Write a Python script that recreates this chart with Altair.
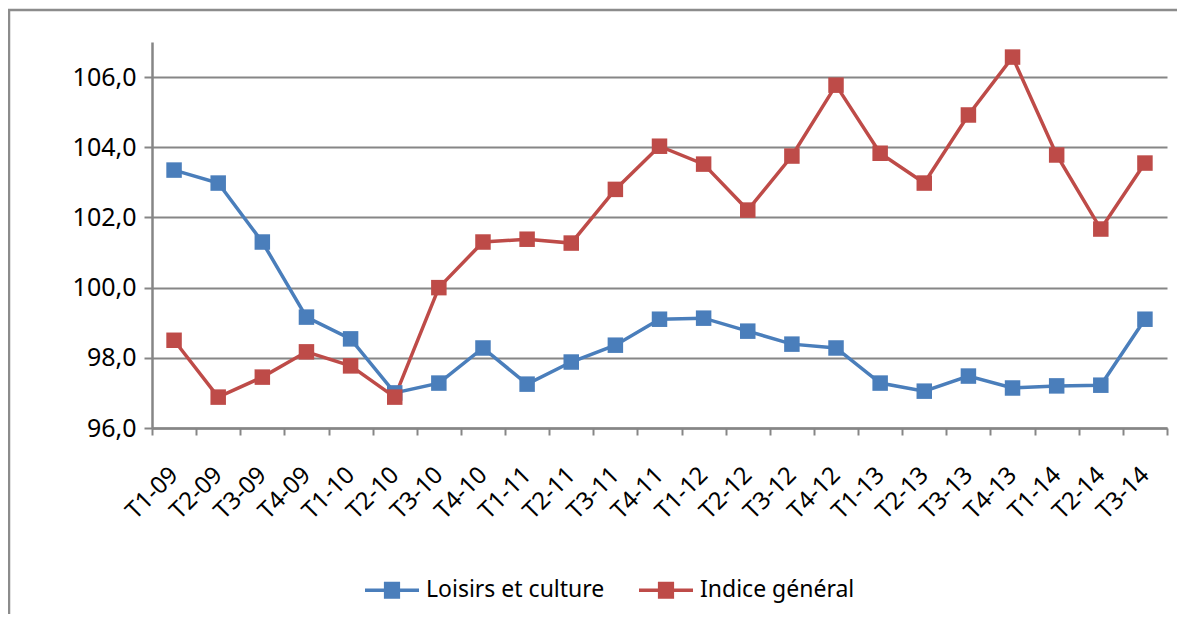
import altair as alt
import pandas as pd

quarters = ["T1-09", "T2-09", "T3-09", "T4-09", "T1-10", "T2-10", "T3-10", "T4-10",
            "T1-11", "T2-11", "T3-11", "T4-11", "T1-12", "T2-12", "T3-12", "T4-12",
            "T1-13", "T2-13", "T3-13", "T4-13", "T1-14", "T2-14", "T3-14"]

loisirs = [103.35, 102.98, 101.3, 99.16, 98.54, 97.0, 97.28, 98.28,
           97.25, 97.88, 98.36, 99.1, 99.13, 98.76, 98.39, 98.28,
           97.28, 97.05, 97.48, 97.14, 97.2, 97.22, 99.1]

indice = [98.5, 96.88, 97.45, 98.17, 97.77, 96.88, 100.0, 101.3,
          101.38, 101.27, 102.8, 104.03, 103.52, 102.21, 103.75, 105.77,
          103.83, 102.98, 104.92, 106.57, 103.78, 101.67, 103.55]

series_names = ["Loisirs et culture", "Indice général"]
series_colors = ["#4A7EBB", "#BE4B48"]
y_ticks = [96, 98, 100, 102, 104, 106]

rows = []
for name, vals in zip(series_names, [loisirs, indice]):
    for q, v in zip(quarters, vals):
        rows.append({"quarter": q, "serie": name, "value": v})
df = pd.DataFrame(rows)

FONT = "Noto Sans"
GRAY = "#868686"

# legend symbol: a line with a filled square drawn from stacked strokes
LEGEND_SYMBOL = ("M-1,0H1 M-0.3,-0.25H0.3 M-0.3,-0.15H0.3 M-0.3,-0.05H0.3 "
                 "M-0.3,0.05H0.3 M-0.3,0.15H0.3 M-0.3,0.25H0.3")

x_enc = alt.X("quarter:O", sort=quarters, title=None,
              scale=alt.Scale(type="band", paddingInner=0, paddingOuter=0),
              axis=alt.Axis(labelAngle=-45, labelFont=FONT, labelFontSize=24,
                            labelColor="#000000", labelPadding=36,
                            tickBand="extent", tickSize=7, tickWidth=2,
                            tickColor=GRAY, domainColor=GRAY, domainWidth=2.5,
                            grid=False, labelAlign="right", labelBaseline="middle"))
y_enc = alt.Y("value:Q", title=None,
              scale=alt.Scale(domain=[96, 107], nice=False, zero=False),
              axis=alt.Axis(values=y_ticks, labelFont=FONT, labelFontSize=25,
                            labelColor="#000000", labelPadding=8,
                            labelExpr="replace(format(datum.value, '.1f'), '.', ',')",
                            tickSize=8, tickWidth=2, tickColor=GRAY,
                            domainColor=GRAY, domainWidth=2.5,
                            grid=True, gridColor=GRAY, gridWidth=2))

frame = alt.Chart(pd.DataFrame({"k": [0]})).mark_rect(
    fill="transparent", stroke="#8c8c8c", strokeWidth=2.5, clip=False
).encode(x=alt.value(-143), x2=alt.value(1100), y=alt.value(-32), y2=alt.value(650))

lines = alt.Chart(df).mark_line(strokeWidth=3.5).encode(
    x=x_enc, y=y_enc,
    color=alt.Color("serie:N", scale=alt.Scale(domain=series_names, range=series_colors),
                    sort=series_names, title=None,
                    legend=alt.Legend(orient="none", direction="horizontal",
                                      legendX=211, legendY=519,
                                      symbolType=LEGEND_SYMBOL, symbolStrokeWidth=3.5,
                                      symbolSize=2916,
                                      labelFont=FONT, labelFontSize=23,
                                      labelColor="#000000", labelOffset=5,
                                      columnPadding=27, labelLimit=400)),
)

points = alt.Chart(df).mark_point(shape="square", filled=True, size=240, opacity=1).encode(
    x=x_enc, y=y_enc,
    color=alt.Color("serie:N", scale=alt.Scale(domain=series_names, range=series_colors),
                    sort=series_names, title=None),
)

chart = alt.layer(frame, lines, points).properties(
    width=1015, height=386,
    autosize=alt.AutoSizeParams(type="none"),
    padding={"left": 144, "top": 34, "right": 10, "bottom": 186},
).configure_view(stroke=None).configure_axis(labelFlush=False)

chart.save("out.html", embed_options={"renderer": "svg", "actions": False})
